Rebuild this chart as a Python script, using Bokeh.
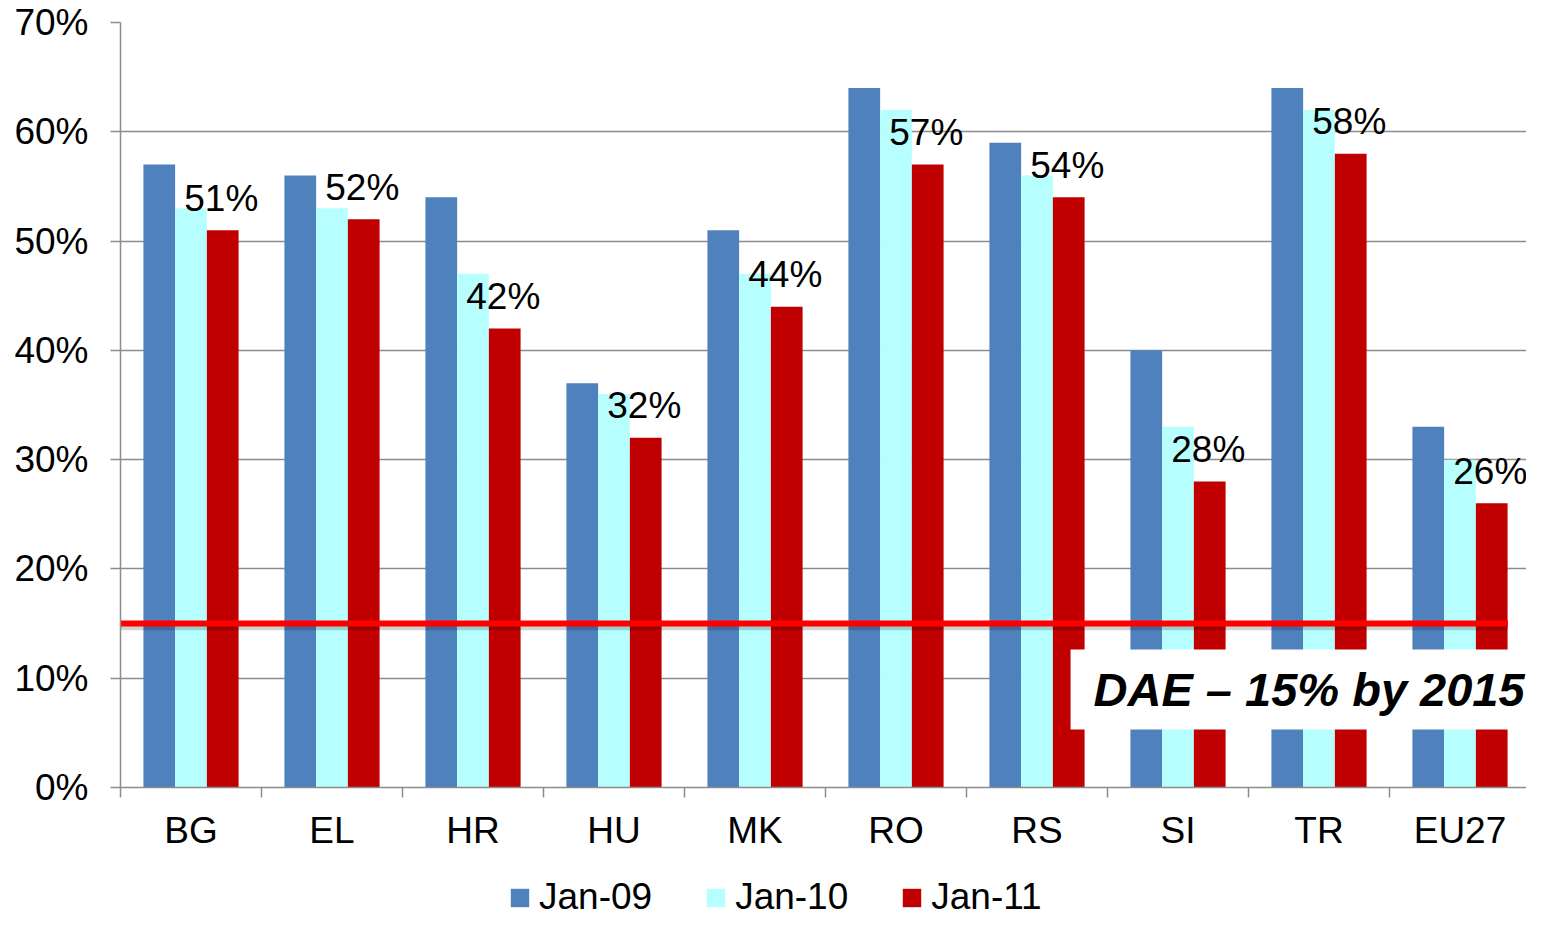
from bokeh.plotting import figure
from bokeh.layouts import column
from bokeh.models import (Range1d, FixedTicker, PrintfTickFormatter, Label, Legend,
                          LegendItem, ColumnDataSource)
from bokeh.embed import file_html
from bokeh.resources import INLINE
from bokeh.core.properties import value

categories = ["BG", "EL", "HR", "HU", "MK", "RO", "RS", "SI", "TR", "EU27"]
series_names = ["Jan-09", "Jan-10", "Jan-11"]
jan09 = [57, 56, 54, 37, 51, 64, 59, 40, 64, 33]
jan10 = [53, 53, 47, 36, 47, 62, 56, 33, 62, 30]
jan11 = [51, 52, 42, 32, 44, 57, 54, 28, 58, 26]
target = 15
target_text = "DAE \u2013 15% by 2015"
y_ticks = [0, 10, 20, 30, 40, 50, 60, 70]

colors = ["#4F81BD", "#B7FFFF", "#C00000"]
FONT = "Liberation Sans"
FS = "37px"
GRID = "#8C8C8C"

n = len(categories)
centers = [i + 0.5 for i in range(n)]
bw = 0.225

p = figure(width=1526, height=876, x_range=Range1d(0, 9.9716), y_range=Range1d(0, 70),
           output_backend="svg", toolbar_location=None,
           min_border_left=120, min_border_right=0, min_border_top=22, min_border_bottom=89)
p.outline_line_color = None
p.background_fill_color = "white"

src = ColumnDataSource(dict(
    x09=[c - bw for c in centers], x10=centers, x11=[c + bw for c in centers],
    jan09=jan09, jan10=jan10, jan11=jan11,
    lx=[c + 0.215 for c in centers], lab=[f"{v}%" for v in jan11],
))

p.vbar(x="x09", top="jan09", width=bw, source=src, fill_color=colors[0], line_color=None)
p.vbar(x="x10", top="jan10", width=bw, source=src, fill_color=colors[1], line_color=None)
p.vbar(x="x11", top="jan11", width=bw, source=src, fill_color=colors[2], line_color=None)

p.text(x="lx", y="jan11", text="lab", source=src, y_offset=-32,
       text_align="center", text_baseline="middle", text_font=value(FONT),
       text_font_size=FS, text_color="black")

# target line with faint shadow
p.line(x=[-0.05, 9.84], y=[target - 0.3, target - 0.3], line_color="#000000",
       line_alpha=0.18, line_width=7)
p.line(x=[-0.05, 9.84], y=[target, target], line_color="#FF0000", line_width=6)

p.add_layout(Label(x=6.738, y=8.97, text=target_text, text_font=FONT,
                   text_font_size="47px", text_font_style="bold italic",
                   text_baseline="middle", text_align="left", text_color="black",
                   background_fill_color="white",
                   padding=dict(left=23, right=40, top=14, bottom=13)))

# axes
p.yaxis.ticker = FixedTicker(ticks=y_ticks)
p.yaxis.formatter = PrintfTickFormatter(format="%d%%")
p.yaxis.axis_line_color = GRID
p.yaxis.axis_line_width = 1.5
p.yaxis.major_tick_line_color = GRID
p.yaxis.major_tick_line_width = 1.5
p.yaxis.major_tick_out = 10
p.yaxis.major_tick_in = 0
p.yaxis.minor_tick_line_color = None
p.yaxis.major_label_standoff = 22
p.yaxis.major_label_text_font = FONT
p.yaxis.major_label_text_font_size = FS
p.yaxis.major_label_text_color = "black"

p.xaxis.ticker = FixedTicker(ticks=centers, minor_ticks=list(range(n + 1)))
p.xaxis.major_label_overrides = {c: name for c, name in zip(centers, categories)}
p.xaxis.axis_line_color = GRID
p.xaxis.axis_line_width = 1.5
p.xaxis.major_tick_line_color = None
p.xaxis.major_tick_out = 0
p.xaxis.major_tick_in = 0
p.xaxis.minor_tick_line_color = GRID
p.xaxis.minor_tick_line_width = 1.5
p.xaxis.minor_tick_out = 10
p.xaxis.minor_tick_in = 0
p.xaxis.major_label_standoff = 12
p.xaxis.major_label_text_font = FONT
p.xaxis.major_label_text_font_size = FS
p.xaxis.major_label_text_color = "black"

p.xgrid.grid_line_color = None
p.ygrid.ticker = FixedTicker(ticks=y_ticks[1:])
p.ygrid.grid_line_color = GRID
p.ygrid.grid_line_width = 1.5

# legend strip (separate small figure so the legend is not clipped);
# its renderers repeat the series but lie outside this strip's visible x range
lg = figure(width=1526, height=42, x_range=Range1d(-100, -99), y_range=Range1d(0, 1),
            output_backend="svg", toolbar_location=None,
            min_border_left=120, min_border_right=0, min_border_top=0, min_border_bottom=0)
lg.outline_line_color = None
lg.axis.visible = False
lg.grid.visible = False
lr = [lg.vbar(x=xs, top=vals, width=bw, source=src, fill_color=c, line_color=None)
      for xs, vals, c in zip(["x09", "x10", "x11"], ["jan09", "jan10", "jan11"], colors)]
legend = Legend(items=[LegendItem(label=s, renderers=[r]) for s, r in zip(series_names, lr)],
                orientation="horizontal", location=(388, 0),
                glyph_width=23, glyph_height=23, label_standoff=8, spacing=52,
                padding=0, margin=0, border_line_color=None, background_fill_alpha=0,
                label_text_font=FONT, label_text_font_size=FS, label_text_color="black")
lg.add_layout(legend, "center")

layout = column(p, lg, spacing=0)
open("out.html", "w").write(file_html(layout, INLINE))
